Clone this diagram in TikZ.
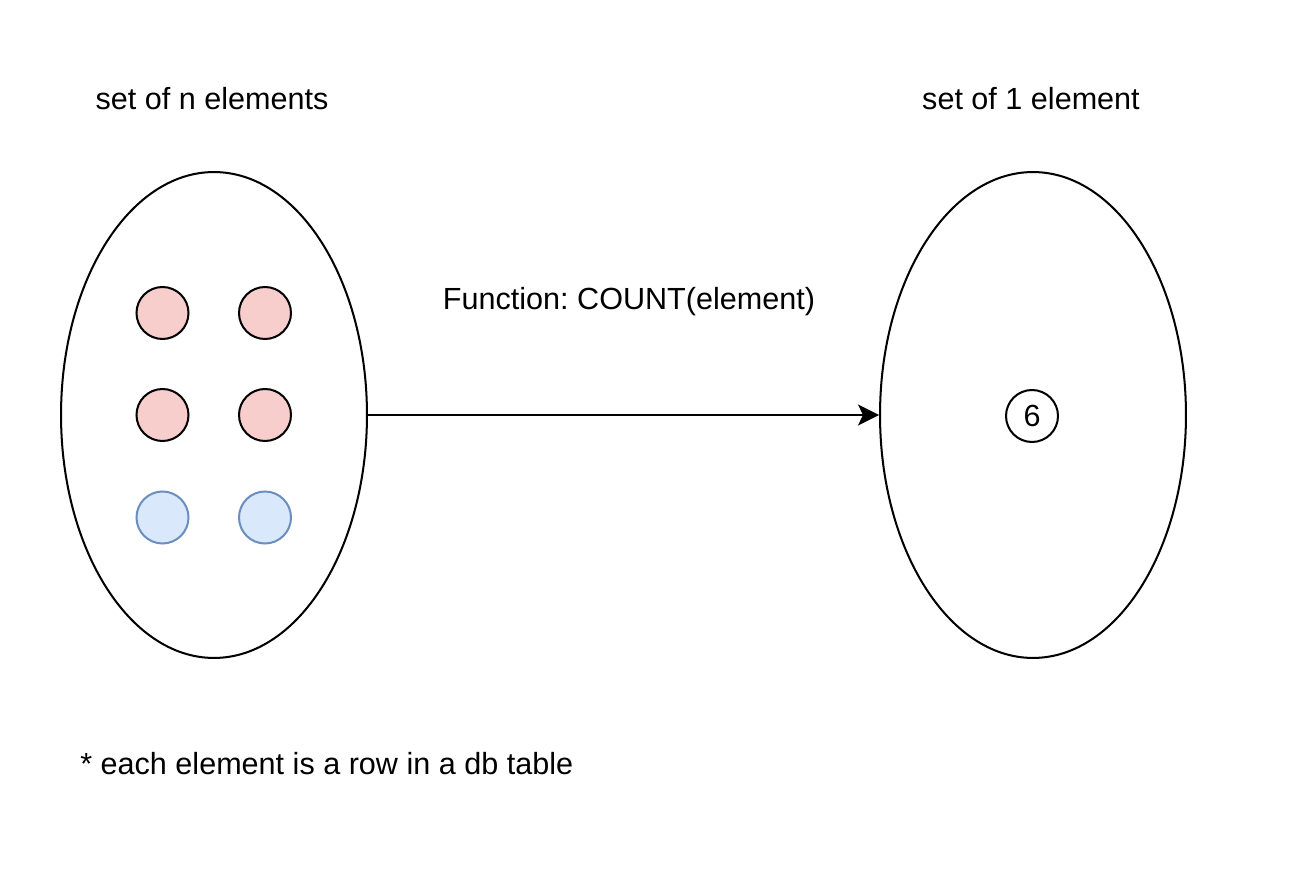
\documentclass[tikz,border=0pt]{standalone}
\usepackage{fontspec}
\setmainfont{Liberation Sans}
\usetikzlibrary{arrows.meta,shapes.geometric}
\definecolor{pinkfill}{HTML}{F8CECC}
\definecolor{bluefill}{HTML}{DAE8FC}
\definecolor{bluedraw}{HTML}{6C8EBF}
\frenchspacing
\begin{document}
\begin{tikzpicture}[x=0.02cm,y=-0.02cm,
  lw/.style={line width=1.15pt},
  setshape/.style={lw, draw=black, ellipse, minimum width=6.12cm, minimum height=9.72cm, inner sep=0pt},
  redel/.style={lw, circle, draw=black, fill=pinkfill, minimum size=1.04cm, inner sep=0pt},
  blueel/.style={lw, circle, draw=bluedraw, fill=bluefill, minimum size=1.04cm, inner sep=0pt},
  numel/.style={lw, circle, draw=black, minimum size=1.04cm, inner sep=0pt, font=\fontsize{17.4}{20}\selectfont},
  lbl/.style={font=\fontsize{17.4}{20}\selectfont, inner sep=0pt},
  conn/.style={lw, -{Stealth[length=0.42cm, width=0.42cm, inset=0.1cm]}}
]
\useasboundingbox (0,0) rectangle (1302,888);
\node[setshape] (A) at (214,415) {};
\node[setshape] (B) at (1033,415) {};
\node[redel] (r1) at (162.5,313) {};
\node[redel] (r2) at (265,313) {};
\node[redel] (r3) at (162.5,415) {};
\node[redel] (r4) at (265,415) {};
\node[blueel] (b1) at (162.5,517.5) {};
\node[blueel] (b2) at (265,517.5) {};
\node[numel] (six) at (1032,416) {6};
\draw[conn] (A.east) -- (B.west);
\node[lbl] (t1) at (212,99) {set of n elements};
\node[lbl] (t2) at (1031,99) {set of 1 element};
\node[lbl] (t3) at (629,302) {Function: COUNT(element)};
\node[lbl, anchor=west] (t4) at (80,764) {* each element is a row in a db table};
\end{tikzpicture}
\end{document}
